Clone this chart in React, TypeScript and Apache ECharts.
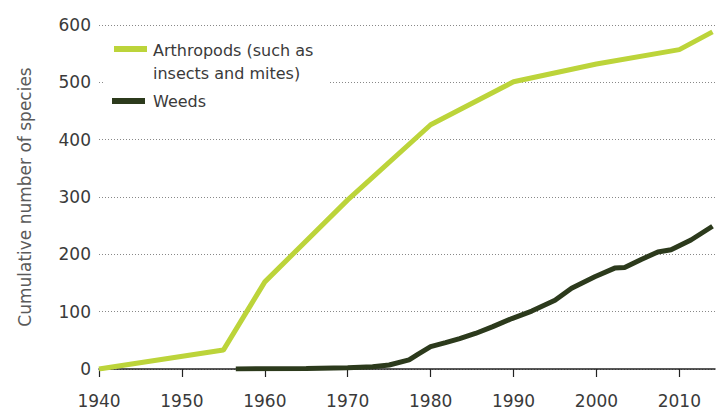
import React, { useEffect, useRef } from "react";
import * as echarts from "echarts";

const arthropodYears = [1940, 1955, 1960, 1970, 1980, 1990, 2000, 2010, 2014];
const arthropodValues = [0, 33, 152, 295, 426, 501, 532, 557, 588];

const weedYears = [1956.5, 1965, 1970, 1973, 1975, 1977.4, 1978.5, 1980, 1981.8, 1983.5, 1985.4, 1987.5, 1989.8, 1992.2, 1995, 1997, 1999.8, 2002.2, 2003.4, 2005.4, 2007.4, 2009, 2011.4, 2014];
const weedValues = [0, 1, 2, 4, 7, 16, 26, 39, 46, 53, 62, 74, 88, 101, 120, 141, 161, 176, 177, 191, 204, 208, 225, 249];

const yTicks = [0, 100, 200, 300, 400, 500, 600];
const seriesNames = ["Arthropods (such as\ninsects and mites)", "Weeds"];
const colors = ["#bcd43a", "#2c3a1c"];

export default function App() {
  const ref = useRef<HTMLDivElement>(null);
  useEffect(() => {
    const chart = echarts.init(ref.current!, null, { renderer: "svg" });
    const font = "'DejaVu Sans', Verdana, sans-serif";
    chart.setOption({
      animation: false,
      grid: { left: 99, right: 2, top: 25, bottom: 42 },
      xAxis: {
        type: "value",
        min: 1940,
        max: 2014.3,
        interval: 10,
        axisLine: { show: true, lineStyle: { color: "#222", width: 1.5 } },
        axisTick: { show: true, length: 8, lineStyle: { color: "#222", width: 1.2 } },
        axisLabel: { color: "#3a3a3a", fontSize: 17, fontFamily: font, margin: 23, formatter: (v: number) => String(v) },
        splitLine: { show: false },
      },
      yAxis: {
        type: "value",
        min: yTicks[0],
        max: yTicks[yTicks.length - 1],
        interval: 100,
        name: "Cumulative number of species",
        nameLocation: "middle",
        nameGap: 66,
        nameTextStyle: { color: "#5a5a5a", fontSize: 17, fontFamily: font },
        axisLine: { show: false },
        axisTick: { show: false },
        axisLabel: { color: "#3a3a3a", fontSize: 17, fontFamily: font, margin: 8 },
        splitLine: { show: true, lineStyle: { color: "#888", type: [1, 2], width: 1 } },
      },
      series: [
        {
          name: seriesNames[1],
          type: "line",
          data: weedYears.map((y, i) => [y, weedValues[i]]),
          showSymbol: false,
          lineStyle: { color: colors[1], width: 5 },
          itemStyle: { color: colors[1] },
          z: 3,
        },
        {
          name: seriesNames[0],
          type: "line",
          data: arthropodYears.map((y, i) => [y, arthropodValues[i]]),
          showSymbol: false,
          lineStyle: { color: colors[0], width: 5 },
          itemStyle: { color: colors[0] },
          z: 4,
        },
      ],
      graphic: [
        { type: "rect", shape: { x: 104, y: 37, width: 226, height: 80 }, style: { fill: "#fff" }, z: 10 },
        { type: "line", shape: { x1: 114, y1: 49, x2: 147, y2: 49 }, style: { stroke: colors[0], lineWidth: 6 }, z: 11 },
        { type: "text", x: 153, y: 50, style: { text: "Arthropods (such as", fontSize: 16, fontFamily: font, fill: "#3a3a3a", verticalAlign: "middle" }, z: 11 },
        { type: "text", x: 153, y: 73, style: { text: "insects and mites)", fontSize: 16, fontFamily: font, fill: "#3a3a3a", verticalAlign: "middle" }, z: 11 },
        { type: "line", shape: { x1: 112, y1: 101, x2: 145, y2: 101 }, style: { stroke: colors[1], lineWidth: 6 }, z: 11 },
        { type: "text", x: 153, y: 101, style: { text: "Weeds", fontSize: 16, fontFamily: font, fill: "#3a3a3a", verticalAlign: "middle" }, z: 11 },
      ],
    });
    return () => chart.dispose();
  }, []);
  return <div ref={ref} style={{ width: 717, height: 411, position: "absolute", left: 0, top: 0 }} />;
}
